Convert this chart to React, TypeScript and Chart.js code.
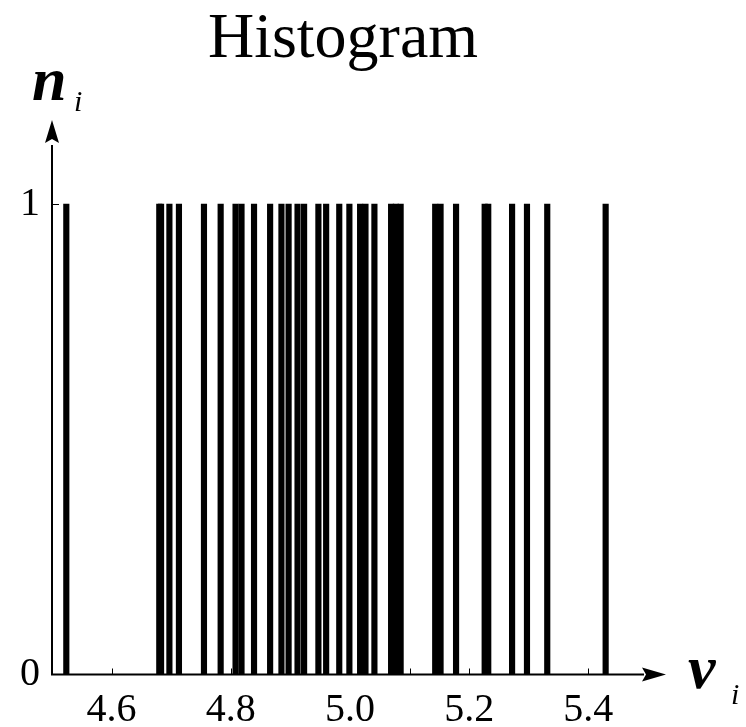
import { useEffect, useRef } from "react";
import { Chart, registerables } from "chart.js";

Chart.register(...registerables);

// Observed values v_i and their counts n_i
const velocities = [
  4.524, 4.68, 4.683, 4.697, 4.713, 4.755, 4.783, 4.808, 4.818, 4.839,
  4.866, 4.885, 4.897, 4.912, 4.923, 4.947, 4.96, 4.982, 4.999, 5.017,
  5.026, 5.041, 5.069, 5.077, 5.085, 5.143, 5.152, 5.178, 5.226, 5.232,
  5.272, 5.297, 5.331, 5.429,
];
const counts = [
  1, 1, 1, 1, 1, 1, 1, 1, 1, 1,
  1, 1, 1, 1, 1, 1, 1, 1, 1, 1,
  1, 1, 1, 1, 1, 1, 1, 1, 1, 1,
  1, 1, 1, 1,
];

const xLabelTicks = [4.6, 4.8, 5.0, 5.2, 5.4];
const xMinorTicks = [4.6, 4.7, 4.8, 4.9, 5.0, 5.1, 5.2, 5.3, 5.4];
const yLabelTicks = [0, 1];
const X_MIN = 4.5;
const X_MAX = 5.49;
const Y_MAX = 1.13;

const SERIF = '"Liberation Serif", "Times New Roman", serif';

const arrowAxes = {
  id: "arrowAxes",
  afterDatasetsDraw(chart: any) {
    const { ctx, chartArea, scales } = chart;
    const xs = scales.x;
    const ys = scales.y;
    const left = xs.getPixelForValue(X_MIN);
    const right = xs.getPixelForValue(X_MAX);
    const y0 = ys.getPixelForValue(0);
    const top = ys.getPixelForValue(Y_MAX);

    ctx.save();
    ctx.strokeStyle = "#000";
    ctx.fillStyle = "#000";

    // axis lines
    ctx.lineWidth = 2;
    ctx.beginPath();
    ctx.moveTo(left, y0);
    ctx.lineTo(right + 2, y0);
    ctx.moveTo(left, y0 + 1);
    ctx.lineTo(left, top + 2);
    ctx.stroke();

    // arrow heads
    ctx.beginPath();
    ctx.moveTo(right + 24, y0);
    ctx.lineTo(right, y0 - 7);
    ctx.lineTo(right + 4, y0);
    ctx.lineTo(right, y0 + 7);
    ctx.closePath();
    ctx.fill();

    ctx.beginPath();
    ctx.moveTo(left, top - 23);
    ctx.lineTo(left - 7, top);
    ctx.lineTo(left, top - 4);
    ctx.lineTo(left + 7, top);
    ctx.closePath();
    ctx.fill();

    // inward tick marks
    ctx.lineWidth = 1;
    ctx.beginPath();
    for (const v of xMinorTicks) {
      const px = Math.round(xs.getPixelForValue(v)) + 0.5;
      ctx.moveTo(px, y0);
      ctx.lineTo(px, y0 - 6);
    }
    for (const v of yLabelTicks) {
      if (v === 0) continue;
      const py = Math.round(ys.getPixelForValue(v)) + 0.5;
      ctx.moveTo(left, py);
      ctx.lineTo(left + 7, py);
    }
    ctx.stroke();

    // title and axis symbols
    ctx.textBaseline = "alphabetic";
    ctx.textAlign = "center";
    ctx.font = `64px ${SERIF}`;
    ctx.fillText("Histogram", (chartArea.left + chartArea.right) / 2 - 4, 57);

    ctx.textAlign = "left";
    ctx.font = `bold italic 62px ${SERIF}`;
    ctx.fillText("n", left - 20, 100);
    ctx.fillText("v", right + 46, y0 + 13);
    ctx.font = `italic 30px ${SERIF}`;
    ctx.fillText("i", left + 22, 111);
    ctx.fillText("i", right + 89, y0 + 29);
    ctx.restore();
  },
};

export default function App() {
  const canvasRef = useRef<HTMLCanvasElement | null>(null);

  useEffect(() => {
    const canvas = canvasRef.current;
    if (!canvas) return;
    const chart = new Chart(canvas, {
      type: "bar",
      data: {
        datasets: [
          {
            data: velocities.map((v, i) => ({ x: v, y: counts[i] })),
            backgroundColor: "#000",
            borderWidth: 0,
            barThickness: 5.5,
            grouped: false,
          } as any,
        ],
      },
      options: {
        animation: false,
        responsive: false,
        devicePixelRatio: 1,
        layout: { padding: { top: 143, right: 104, left: 0, bottom: 0 } },
        plugins: {
          legend: { display: false },
          tooltip: { enabled: false },
          title: { display: false },
        },
        scales: {
          x: {
            type: "linear",
            min: X_MIN,
            max: X_MAX,
            offset: false,
            grid: { display: false, drawTicks: false },
            border: { display: false },
            afterBuildTicks: (scale: any) => {
              scale.ticks = xLabelTicks.map((value) => ({ value }));
            },
            afterFit: (scale: any) => {
              scale.height = 52.5;
            },
            ticks: {
              color: "#000",
              padding: 12,
              maxRotation: 0,
              autoSkip: false,
              font: { family: SERIF, size: 40 },
              callback: (value: any) => Number(value).toFixed(1),
            },
          },
          y: {
            min: 0,
            max: Y_MAX,
            grid: { display: false, drawTicks: false },
            border: { display: false },
            afterBuildTicks: (scale: any) => {
              scale.ticks = yLabelTicks.map((value) => ({ value }));
            },
            afterFit: (scale: any) => {
              scale.width = 52;
            },
            ticks: {
              color: "#000",
              padding: 12,
              font: { family: SERIF, size: 40 },
              callback: (value: any) => String(value),
            },
          },
        },
      },
      plugins: [arrowAxes],
    });
    return () => chart.destroy();
  }, []);

  return (
    <div style={{ position: "fixed", left: 0, top: 0, width: 746, height: 727, background: "#fff" }}>
      <canvas ref={canvasRef} width={746} height={727} />
    </div>
  );
}
